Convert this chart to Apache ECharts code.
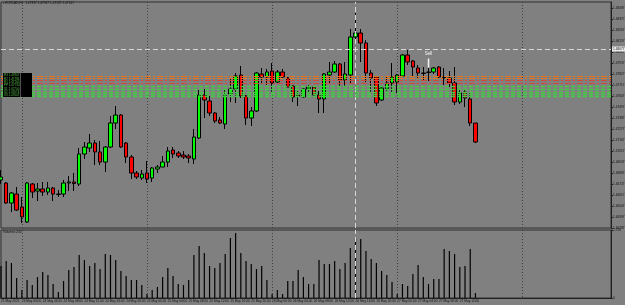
<!DOCTYPE html>
<html>
<head>
<meta charset="utf-8">
<title>EURCAD,H1</title>
<script src="https://cdn.jsdelivr.net/npm/echarts@6.0.0/dist/echarts.min.js"></script>
<style>
html,body{margin:0;padding:0;background:#808080;}
#chart{width:625px;height:305px;}
</style>
</head>
<body>
<div id="chart"></div>
<script>
// chart data (EURCAD H1, 21-27 May 2021)
var slotCount = 118;   // bars that fit on the screen incl. the empty shift area
var opens = [1.46767,1.46737,1.46537,1.46627,1.46497,1.46347,1.46727,1.46657,1.46677,1.46647,
    1.46687,1.46622,1.46627,1.46737,1.46747,1.46727,1.47027,1.47087,1.47137,1.47047,
    1.46947,1.47097,1.47337,1.47417,1.47137,1.46997,1.46837,1.46787,1.46837,1.46787,
    1.46877,1.46897,1.46947,1.47067,1.47037,1.47017,1.47007,1.46977,1.47187,1.47617,
    1.47557,1.47437,1.47367,1.47327,1.47627,1.47677,1.47817,1.47607,1.47387,1.47457,
    1.47827,1.47797,1.47857,1.47747,1.47847,1.47787,1.47707,1.47617,1.47597,1.47677,
    1.47697,1.47617,1.47577,1.47817,1.47847,1.47927,1.47767,1.47817,1.48197,1.48237,
    1.48137,1.47837,1.47797,1.47567,1.47677,1.47737,1.47747,1.47807,1.48017,1.47957,
    1.47887,1.47837,1.47847,1.47847,1.47897,1.47792,1.47787,1.47737,1.47547,1.47647,
    1.47577,1.47337];
var closes = [1.46797,1.46537,1.46637,1.46467,1.46397,1.46737,1.46647,1.46677,1.46647,1.46687,
    1.46627,1.46627,1.46737,1.46747,1.46732,1.47027,1.47097,1.47137,1.47047,1.46947,
    1.47097,1.47337,1.47417,1.47097,1.46997,1.46837,1.46797,1.46827,1.46777,1.46887,
    1.46897,1.46947,1.47057,1.47027,1.47007,1.46997,1.46987,1.47197,1.47617,1.47567,
    1.47437,1.47357,1.47337,1.47617,1.47677,1.47807,1.47607,1.47387,1.47457,1.47837,
    1.47797,1.47847,1.47737,1.47847,1.47797,1.47697,1.47597,1.47607,1.47677,1.47697,
    1.47617,1.47577,1.47827,1.47847,1.47927,1.47767,1.47827,1.48197,1.48237,1.48137,
    1.47837,1.47787,1.47537,1.47687,1.47737,1.47797,1.47817,1.48017,1.47947,1.47897,
    1.47837,1.47832,1.47842,1.47887,1.47797,1.47787,1.47737,1.47547,1.47637,1.47587,
    1.47337,1.47147];
var lows = [1.46727,1.46527,1.46447,1.46457,1.46337,1.46337,1.46587,1.46557,1.46607,1.46617,
    1.46557,1.46597,1.46597,1.46657,1.46657,1.46707,1.46977,1.47047,1.46917,1.46917,
    1.46847,1.47087,1.47277,1.47087,1.46937,1.46777,1.46777,1.46767,1.46737,1.46747,
    1.46837,1.46897,1.46897,1.46987,1.46987,1.46977,1.46937,1.46927,1.47177,1.47387,
    1.47407,1.47337,1.47327,1.47277,1.47547,1.47537,1.47587,1.47317,1.47307,1.47447,
    1.47727,1.47717,1.47637,1.47737,1.47777,1.47697,1.47547,1.47507,1.47587,1.47637,
    1.47607,1.47437,1.47437,1.47737,1.47837,1.47697,1.47697,1.47737,1.48157,1.47947,
    1.47747,1.47647,1.47507,1.47557,1.47657,1.47637,1.47637,1.47797,1.47917,1.47807,
    1.47777,1.47757,1.47757,1.47827,1.47787,1.47717,1.47697,1.47517,1.47527,1.47497,
    1.47307,1.47137];
var highs = [1.46867,1.46747,1.46647,1.46697,1.46597,1.46747,1.46737,1.46737,1.46747,1.46747,
    1.46697,1.46667,1.46767,1.46807,1.46837,1.47087,1.47147,1.47227,1.47167,1.47157,
    1.47107,1.47407,1.47507,1.47427,1.47147,1.47017,1.46857,1.46867,1.46957,1.46897,
    1.46917,1.47007,1.47097,1.47097,1.47057,1.47057,1.47027,1.47277,1.47667,1.47677,
    1.47607,1.47447,1.47397,1.47677,1.47787,1.47837,1.47907,1.47617,1.47497,1.47847,
    1.47887,1.47877,1.47937,1.47867,1.47877,1.47797,1.47717,1.47657,1.47687,1.47717,
    1.47707,1.47657,1.47837,1.47947,1.47957,1.47937,1.47947,1.48277,1.48437,1.48277,
    1.48167,1.47867,1.47807,1.47697,1.47797,1.47937,1.47827,1.48027,1.48067,1.47967,
    1.47917,1.47897,1.47887,1.47897,1.47907,1.47887,1.47857,1.47897,1.47667,1.47667,
    1.47637,1.47337];
var volumes = [1280,1480,1400,800,320,720,520,840,1040,920,
    560,240,680,1120,1240,1720,1520,1280,1400,1160,
    1760,1720,1520,1080,880,720,720,520,160,320,
    440,840,1200,880,560,520,720,1720,2080,1800,
    1280,1200,1400,1760,2400,2600,1800,1480,1360,1160,
    1280,720,160,320,160,680,680,1120,840,560,
    560,1520,1360,1360,1480,1160,1400,2000,2400,2360,
    1880,1560,1400,1080,920,640,160,560,480,960,
    1320,840,560,760,760,1960,1880,1760,1240,1280,
    1960,200];
// horizontal level objects on the chart
var orangeLevels = [1.47807, 1.47784];
var redLevels = [1.47760, 1.47734];
var greenLevels = [1.47700, 1.47674, 1.47647, 1.47624, 1.47600];
var levelNames = ['R3', 'R2', 'R1', 'PP', 'S1', 'S2', 'S3'];
var crossPrice = 1.48077;
var crossBar = 68;
var sellBar = 82, sellPrice = 1.47937;
var priceMin = 1.46287, priceMax = 1.48547, priceStep = 0.0011;
var volumeMax = 2720;

(function(window){
    var font = 'Liberation Sans',
        tiny = 3.2;

    function pad(n){
        return (n < 10 ? '0' : '') + n;
    }

    // hourly bars: friday 21 May 20:00 .. 23:00, then 24 May 00:00 onwards
    function buildTimes(){
        var out = [], i, day, hour;
        for(i = 0; i < slotCount; i++){
            if(i < 4){
                day = 21; hour = 20 + i;
            }else{
                day = 24 + Math.floor((i - 4) / 24);
                hour = (i - 4) % 24;
            }
            out.push(day + ' May ' + pad(hour) + ':00');
        }
        return out;
    }

    function buildCandles(){
        var out = [];
        opens.forEach(function(o, i){
            out.push([o, closes[i], lows[i], highs[i]]);
        });
        return out;
    }

    function dayLine(idx){
        return idx >= 4 && (idx - 4) % 24 === 0;
    }

    function hline(v, color, width, dash){
        return {
            yAxis: v,
            lineStyle: {color: color, width: width, type: dash, opacity: 1},
            label: {show: false}
        };
    }

    function levelLines(){
        var lines = [];
        orangeLevels.forEach(function(v){ lines.push(hline(v, '#e8741c', 1, [6, 2, 2, 2])); });
        redLevels.forEach(function(v){ lines.push(hline(v, '#d04a3c', 1, [6, 2, 2, 2])); });
        greenLevels.forEach(function(v){ lines.push(hline(v, '#44cc44', 1.4, [4, 2])); });
        return lines;
    }

    function crossLines(){
        var last = closes[closes.length - 1];
        return [
            {
                yAxis: crossPrice,
                lineStyle: {color: '#d8d8d8', width: 1, type: [5, 3]},
                label: {show: true, position: 'end', distance: 1, formatter: crossPrice.toFixed(5),
                    backgroundColor: '#e8e8e8', color: '#202020', fontSize: tiny, padding: [1, 1]}
            },
            {
                yAxis: last,
                lineStyle: {opacity: 0},
                label: {show: true, position: 'end', distance: 1, formatter: last.toFixed(5),
                    backgroundColor: '#000', color: '#fff', fontSize: tiny, padding: [1, 1]}
            },
            {
                xAxis: times[crossBar],
                lineStyle: {color: '#d8d8d8', width: 1, type: [5, 3]},
                label: {show: false}
            }
        ];
    }

    function boxText(){
        var text = [], i, all = orangeLevels.concat(redLevels, greenLevels);
        for(i = 0; i < levelNames.length; i++){
            text.push(levelNames[i] + ' ' + all[i].toFixed(5));
        }
        return text.join('\n');
    }

    function initChart(){
        var option = {
            backgroundColor: '#808080',
            animation: false,
            textStyle: {fontFamily: font},
            grid: [
                {left: 1, right: 14, top: 2, height: 226, containLabel: false, outerBoundsMode: 'none',
                    show: true, borderColor: '#303030', borderWidth: 1},
                {left: 1, right: 14, top: 230, height: 68, containLabel: false, outerBoundsMode: 'none',
                    show: true, borderColor: '#303030', borderWidth: 1}
            ],
            xAxis: [
                {
                    type: 'category', gridIndex: 0, data: times, boundaryGap: false,
                    axisLine: {show: false}, axisTick: {show: false}, axisLabel: {show: false},
                    splitLine: {show: true, interval: dayLine, lineStyle: {color: '#404040', type: [1, 2]}}
                },
                {
                    type: 'category', gridIndex: 1, data: times, boundaryGap: false,
                    axisLine: {show: true, lineStyle: {color: '#202020'}},
                    axisTick: {show: false},
                    axisLabel: {
                        show: true, fontSize: tiny, color: '#101010', align: 'left', margin: 2,
                        hideOverlap: false,
                        interval: function(idx){ return idx % 4 === 0 && idx < opens.length; },
                        formatter: function(v, idx){ return idx === 0 ? '21 May 2021' : v; }
                    },
                    splitLine: {show: true, interval: dayLine, lineStyle: {color: '#404040', type: [1, 2]}}
                }
            ],
            yAxis: [
                {
                    type: 'value', gridIndex: 0, position: 'right',
                    min: priceMin, max: priceMax, interval: priceStep,
                    axisLine: {show: true, lineStyle: {color: '#202020'}},
                    axisTick: {show: true, length: 2, lineStyle: {color: '#202020'}},
                    splitLine: {show: false},
                    axisLabel: {fontSize: tiny, color: '#101010', margin: 2, showMaxLabel: false,
                        formatter: function(v){ return v.toFixed(5); }}
                },
                {
                    type: 'value', gridIndex: 1, position: 'right',
                    min: 0, max: volumeMax, interval: volumeMax,
                    axisLine: {show: true, lineStyle: {color: '#202020'}},
                    axisTick: {show: true, length: 2, lineStyle: {color: '#202020'}},
                    splitLine: {show: false},
                    axisLabel: {fontSize: tiny, color: '#101010', margin: 2}
                }
            ],
            graphic: [
                {type: 'text', left: 3, top: 2, style: {text: '\u25aa ' + 'EURCAD,H1  1.47337 1.47337 1.47137 1.47147', fontSize: tiny, fill: '#101010', fontFamily: font}},
                {type: 'text', left: 3, top: 231, style: {text: 'Volumes ' + volumes[volumes.length - 1], fontSize: tiny, fill: '#101010', fontFamily: font}},
                {type: 'rect', left: 3, top: 73, shape: {width: 29, height: 24}, style: {fill: '#000'}, z: 10},
                {type: 'text', left: 4, top: 74, style: {text: boxText(), fontSize: 3, lineHeight: 3.3, fill: '#5bbf4a', fontFamily: font}, z: 11},
                {type: 'rect', left: 20, top: 73, shape: {width: 1, height: 24}, style: {fill: '#505050'}, z: 11}
            ],
            series: [
                {
                    name: 'EURCAD', type: 'candlestick', xAxisIndex: 0, yAxisIndex: 0,
                    data: candles, barWidth: 4,
                    itemStyle: {color: '#00ff00', color0: '#ff0000', borderColor: '#000', borderColor0: '#000', borderWidth: 1},
                    markLine: {symbol: ['none', 'none'], silent: true, precision: 5, data: crossLines()},
                    markPoint: {
                        silent: true,
                        data: [{
                            coord: [times[sellBar], sellPrice], symbol: 'rect', symbolSize: [1.5, 9],
                            itemStyle: {color: '#f4f4f4'},
                            label: {show: true, position: 'top', distance: 2, formatter: 'Sell', fontSize: 4.5, color: '#f4f4f4'}
                        }]
                    }
                },
                {
                    // carrier for the level objects
                    name: 'Levels', type: 'line', xAxisIndex: 0, yAxisIndex: 0,
                    data: [], symbol: 'none',
                    markLine: {symbol: ['none', 'none'], silent: true, precision: 5, data: levelLines()}
                },
                {
                    name: 'Volumes', type: 'bar', xAxisIndex: 1, yAxisIndex: 1,
                    data: volumes, barWidth: 1.2,
                    itemStyle: {color: '#000'},
                    markLine: {
                        symbol: ['none', 'none'], silent: true,
                        data: [{xAxis: times[crossBar], lineStyle: {color: '#d8d8d8', width: 1, type: [5, 3]}, label: {show: false}}]
                    }
                }
            ]
        };
        chart.setOption(option);
    }

    var times = buildTimes(),
        candles = buildCandles(),
        chart = echarts.init(document.getElementById('chart'), null, {renderer: 'canvas'});

    initChart();
})(window)
</script>
</body>
</html>
